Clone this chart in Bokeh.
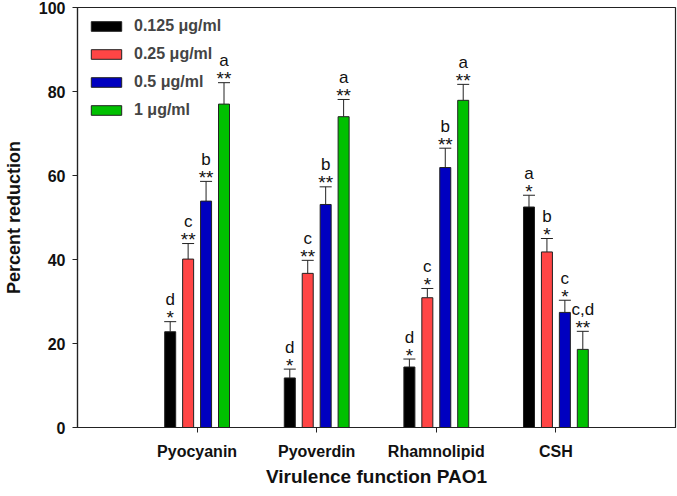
from bokeh.plotting import figure
from bokeh.models import (ColumnDataSource, FixedTicker, Whisker, TeeHead,
                          Legend, LegendItem, Range1d)
from bokeh.core.properties import value
from bokeh.embed import file_html
from bokeh.resources import INLINE

# Virulence functions (x categories)
categories = ["Pyocyanin", "Pyoverdin", "Rhamnolipid", "CSH"]

# Dose labels
doses = ["0.125 \u03bcg/ml", "0.25 \u03bcg/ml", "0.5 \u03bcg/ml", "1 \u03bcg/ml"]

# Mean percent reduction per dose (order follows categories)
red_0125 = [22.8, 11.8, 14.4, 52.5]
red_025 = [40.1, 36.7, 30.9, 41.8]
red_05 = [53.9, 53.1, 61.9, 27.4]
red_1 = [77.0, 74.0, 77.9, 18.6]

# Standard deviations per dose
sd_0125 = [2.4, 2.1, 1.9, 2.8]
sd_025 = [3.7, 3.1, 2.2, 3.2]
sd_05 = [4.7, 4.2, 4.6, 2.9]
sd_1 = [5.1, 4.1, 3.8, 4.3]

# Significance stars and letter groupings
stars_0125 = ["*", "*", "*", "*"]
stars_025 = ["**", "**", "*", "*"]
stars_05 = ["**", "**", "**", "*"]
stars_1 = ["**", "**", "**", "**"]

letters_0125 = ["d", "d", "d", "a"]
letters_025 = ["c", "c", "c", "b"]
letters_05 = ["b", "b", "b", "c"]
letters_1 = ["a", "a", "a", "c,d"]

series = [
    (doses[0], red_0125, sd_0125, stars_0125, letters_0125, "#000000", -0.225),
    (doses[1], red_025, sd_025, stars_025, letters_025, "#ff4545", -0.075),
    (doses[2], red_05, sd_05, stars_05, letters_05, "#0000c0", 0.075),
    (doses[3], red_1, sd_1, stars_1, letters_1, "#00c000", 0.225),
]

FONT = "Liberation Sans"

p = figure(width=677, height=496, output_backend="svg", toolbar_location=None,
           x_range=Range1d(0, 5), y_range=Range1d(0, 100),
           min_border_left=76, min_border_right=2, min_border_top=7,
           min_border_bottom=69)
p.grid.visible = False
p.outline_line_color = "#222222"
p.outline_line_width = 1.2
p.background_fill_color = "white"

legend_items = []
for name, vals, sds, stars, letters, color, off in series:
    xs = [i + 1 + off for i in range(len(categories))]
    tops = [v + s for v, s in zip(vals, sds)]
    src = ColumnDataSource(dict(x=xs, top=vals, upper=tops, stars=stars, letters=letters))
    r = p.vbar(x="x", top="top", width=0.092, source=src, fill_color=color,
               line_color="#222222", line_width=1)
    legend_items.append(LegendItem(label=name, renderers=[r]))
    p.add_layout(Whisker(base="x", lower="top", upper="upper", source=src,
                         dimension="height", line_color="#222222", line_width=1,
                         upper_head=TeeHead(size=12, line_color="#222222", line_width=1),
                         lower_head=None))
    p.text(x="x", y="upper", text="stars", source=src, text_align="center",
           text_baseline="alphabetic", y_offset=-4, text_font=value(FONT),
           text_font_size="19px", text_color="#111111")
    p.text(x="x", y="upper", text="letters", source=src, text_align="center",
           text_baseline="alphabetic", y_offset=-22, text_font=value(FONT),
           text_font_size="17px", text_color="#111111")

legend = Legend(items=legend_items, location="top_left", margin=0, padding=10,
                glyph_width=38, glyph_height=12, label_height=12, spacing=10,
                label_standoff=9, label_text_font=FONT, label_text_font_size="16px",
                label_text_font_style="bold", background_fill_alpha=0,
                border_line_alpha=0)
p.add_layout(legend)

# Axes
p.xaxis.ticker = FixedTicker(ticks=[1, 2, 3, 4])
p.xaxis.major_label_overrides = {i + 1: c for i, c in enumerate(categories)}
p.yaxis.ticker = FixedTicker(ticks=[0, 20, 40, 60, 80, 100])
for ax in (p.xaxis, p.yaxis):
    ax.axis_line_color = "#222222"
    ax.axis_line_width = 1.2
    ax.major_tick_line_color = "#222222"
    ax.major_tick_out = 5
    ax.major_tick_in = 0
    ax.minor_tick_line_color = None
    ax.major_label_text_font = FONT
    ax.major_label_text_font_size = "16px"
    ax.major_label_text_font_style = "bold"
    ax.major_label_text_color = "#111111"
    ax.axis_label_text_font = FONT
    ax.axis_label_text_font_style = "bold"
    ax.axis_label_text_color = "#111111"

p.xaxis.axis_label = "Virulence function PAO1"
p.xaxis.axis_label_text_font_size = "19px"
p.xaxis.major_label_standoff = 10
p.xaxis.axis_label_standoff = 3
p.yaxis.axis_label = "Percent reduction"
p.yaxis.axis_label_text_font_size = "18px"
p.yaxis.major_label_standoff = 7
p.yaxis.axis_label_standoff = 12

open("out.html", "w").write(file_html(p, INLINE))
